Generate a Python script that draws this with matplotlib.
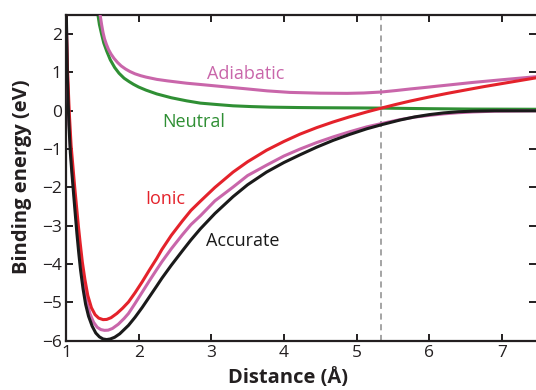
import matplotlib
matplotlib.use("Agg")
import matplotlib.pyplot as plt

# ---- data ----
acc_x = [1.005, 1.02, 1.04, 1.06, 1.08, 1.106, 1.13, 1.15, 1.175, 1.20, 1.235, 1.27, 1.31, 1.36, 1.41,
         1.46, 1.51, 1.56, 1.61, 1.67, 1.74, 1.80, 1.86, 1.95, 2.05, 2.15, 2.25, 2.32, 2.45, 2.60,
         2.72, 2.85, 3.05, 3.30, 3.50, 3.76, 4.00, 4.22, 4.45, 4.68, 4.90, 5.14, 5.35, 5.60, 5.80,
         6.00, 6.20, 6.40, 6.60, 6.90, 7.47]
acc_y = [2.5, 0.8, -0.35, -1.1, -1.6, -2.2, -2.75, -3.2, -3.7, -4.15, -4.65, -5.05, -5.36, -5.62, -5.8,
         -5.9, -5.955, -5.97, -5.955, -5.91, -5.82, -5.71, -5.6, -5.39, -5.13, -4.85, -4.57, -4.37, -4.03, -3.66,
         -3.37, -3.08, -2.68, -2.24, -1.93, -1.6, -1.35, -1.15, -0.95, -0.77, -0.62, -0.47, -0.36, -0.24, -0.16,
         -0.1, -0.055, -0.025, -0.01, 0.0, 0.0]

ion_x = [1.0, 1.02, 1.045, 1.07, 1.095, 1.12, 1.145, 1.17, 1.195, 1.225, 1.26, 1.30, 1.35, 1.40, 1.45,
         1.51, 1.56, 1.62, 1.70, 1.78, 1.86, 1.95, 2.05, 2.15, 2.25, 2.32, 2.45, 2.60, 2.72, 2.85,
         3.05, 3.30, 3.50, 3.76, 4.00, 4.22, 4.45, 4.68, 4.90, 5.14, 5.34, 5.55, 5.74, 6.00, 6.25,
         6.52, 6.75, 7.00, 7.25, 7.47]
ion_y = [2.5, 1.1, -0.05, -0.9, -1.45, -2.0, -2.5, -3.0, -3.45, -3.95, -4.4, -4.82, -5.14, -5.32, -5.41,
         -5.45, -5.445, -5.4, -5.29, -5.15, -4.99, -4.75, -4.46, -4.15, -3.85, -3.62, -3.25, -2.88, -2.6, -2.36,
         -2.0, -1.6, -1.33, -1.03, -0.8, -0.61, -0.44, -0.29, -0.16, -0.03, 0.07, 0.17, 0.255, 0.36, 0.455,
         0.55, 0.63, 0.71, 0.79, 0.86]

adl_x = [1.003, 1.02, 1.04, 1.062, 1.085, 1.11, 1.135, 1.158, 1.183, 1.21, 1.245, 1.285, 1.33, 1.38, 1.43,
         1.48, 1.53, 1.58, 1.64, 1.72, 1.80, 1.86, 1.95, 2.05, 2.15, 2.25, 2.32, 2.45, 2.60, 2.72,
         2.85, 3.05, 3.30, 3.50, 3.76, 4.00, 4.22, 4.45, 4.68, 4.90, 5.14, 5.35, 5.60, 5.80, 6.00,
         6.20, 6.40, 6.60, 6.90, 7.47]
adl_y = [2.5, 1.0, -0.2, -1.0, -1.55, -2.1, -2.65, -3.13, -3.6, -4.05, -4.55, -4.97, -5.3, -5.52, -5.65,
         -5.71, -5.73, -5.725, -5.68, -5.57, -5.42, -5.29, -5.03, -4.73, -4.43, -4.14, -3.94, -3.6, -3.24, -2.97,
         -2.74, -2.35, -1.99, -1.69, -1.42, -1.18, -1.0, -0.83, -0.68, -0.55, -0.42, -0.33, -0.23, -0.165, -0.12,
         -0.08, -0.05, -0.03, -0.01, 0.0]

adu_x = [1.47, 1.49, 1.51, 1.53, 1.555, 1.585, 1.62, 1.66, 1.71, 1.76, 1.82, 1.88, 1.95, 2.03, 2.10,
         2.25, 2.40, 2.66, 3.00, 3.22, 3.50, 3.77, 4.08, 4.50, 4.87, 5.10, 5.34, 5.55, 5.74, 6.00,
         6.20, 6.60, 7.00, 7.47]
adu_y = [2.5, 2.25, 2.04, 1.88, 1.74, 1.6, 1.48, 1.37, 1.26, 1.17, 1.09, 1.025, 0.965, 0.915, 0.88,
         0.82, 0.78, 0.72, 0.66, 0.62, 0.57, 0.52, 0.48, 0.46, 0.455, 0.465, 0.49, 0.53, 0.57, 0.62,
         0.66, 0.74, 0.81, 0.89]

neu_x = [1.44, 1.46, 1.49, 1.52, 1.56, 1.61, 1.67, 1.73, 1.80, 1.87, 1.93, 2.00, 2.10, 2.25, 2.45,
         2.66, 2.85, 3.10, 3.30, 3.55, 3.81, 4.20, 4.50, 5.00, 5.34, 6.00, 6.60, 7.47]
neu_y = [2.5, 2.25, 2.0, 1.77, 1.56, 1.33, 1.13, 0.98, 0.85, 0.76, 0.69, 0.62, 0.54, 0.44, 0.34,
         0.26, 0.2, 0.16, 0.13, 0.11, 0.095, 0.085, 0.08, 0.075, 0.07, 0.055, 0.045, 0.04]

crossing_x = 5.34
x_ticks = [1, 2, 3, 4, 5, 6, 7]
y_ticks = [-6, -5, -4, -3, -2, -1, 0, 1, 2]

labels = ["Adiabatic", "Neutral", "Ionic", "Accurate"]
label_pos = [(3.47, 0.97), (2.76, -0.29), (2.36, -2.3), (3.44, -3.39)]

# ---- styling ----
plt.rcParams['font.family'] = ['Open Sans', 'DejaVu Sans']
C_BLACK = "#1a1a1a"
C_RED = "#e4222b"
C_PINK = "#c966aa"
C_GREEN = "#2f8f34"
TXT = "#231f20"

fig = plt.figure(figsize=(5.36, 3.90), dpi=100)
ax = fig.add_axes([66 / 536, 1 - 340.7 / 390, 1 - 66 / 536, (340.7 - 15) / 390])

lw = 2.2
ax.axvline(crossing_x, color="#8c8c8c", lw=1.1, ls=(0, (4, 3)), zorder=1)
kw = dict(lw=lw, solid_capstyle="round", solid_joinstyle="round")
ax.plot(neu_x, neu_y, color=C_GREEN, zorder=2, **kw)
ax.plot(adu_x, adu_y, color=C_PINK, zorder=3, **kw)
ax.plot(adl_x, adl_y, color=C_PINK, zorder=3, **kw)
ax.plot(ion_x, ion_y, color=C_RED, zorder=4, **kw)
ax.plot(acc_x, acc_y, color=C_BLACK, zorder=5, **kw)

colors = [C_PINK, C_GREEN, C_RED, C_BLACK]
for lab, (lx, ly), c in zip(labels, label_pos, colors):
    ax.text(lx, ly, lab, color=c, fontsize=13, ha="center", va="center")

ax.set_xlim(1, 7.47)
ax.set_ylim(-6, 2.5)
ax.set_xticks(x_ticks)
ax.set_yticks(y_ticks)
ax.set_xticklabels([str(v) for v in x_ticks])
ax.set_yticklabels([str(v).replace("-", "\u2212") for v in y_ticks])

ax.tick_params(direction="in", length=5, width=1.4, colors=TXT, labelsize=12.5,
               top=True, right=True, pad=3)
for side in ["left", "bottom", "top"]:
    ax.spines[side].set_linewidth(1.6)
    ax.spines[side].set_color(TXT)
ax.spines["right"].set_visible(False)

ax.set_xlabel("Distance (Å)", fontsize=14.5, fontweight="bold", color=TXT, va="center")
ax.set_ylabel("Binding energy (eV)", fontsize=14.5, fontweight="bold", color=TXT, va="center")
ax.xaxis.set_label_coords((288 - 66) / 470, -(378 - 340.7) / 325.7)
ax.yaxis.set_label_coords((22 - 66) / 470, (340.7 - 177) / 325.7)

fig.savefig("out.png", dpi=100)
